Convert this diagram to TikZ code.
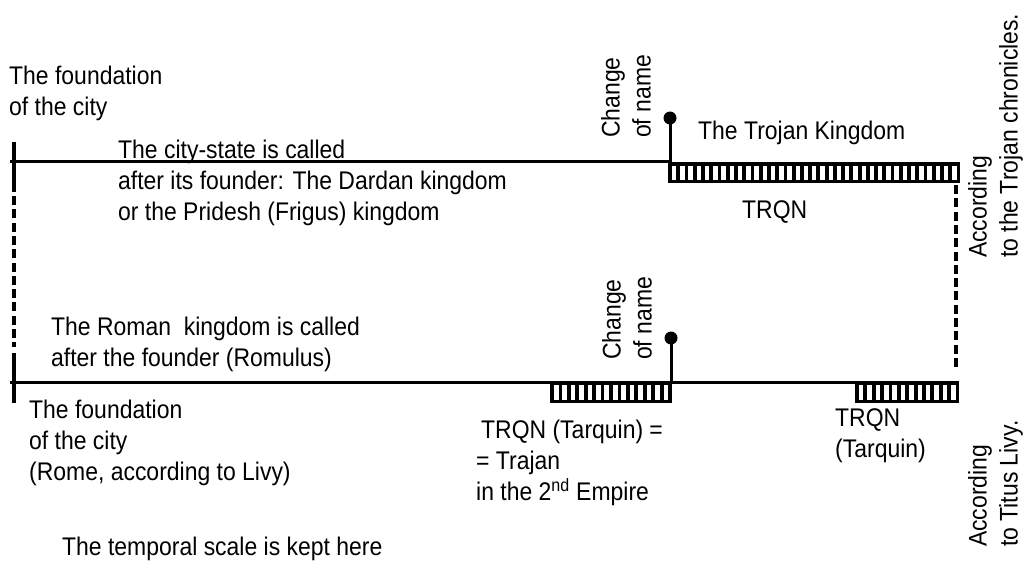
\documentclass[tikz,border=0pt]{standalone}
\usepackage{fontspec}
\setmainfont{Liberation Sans}[FakeStretch=0.9]
\begin{document}
\begin{tikzpicture}[x=1pt,y=-1pt,
  txt/.style={inner sep=0pt, align=left, font=\fontsize{25.5}{31}\selectfont},
  tl/.style={line width=3pt},
  dsh/.style={line width=3.2pt, dash pattern=on 9pt off 4.3pt},
  barframe/.style={line width=3.3pt},
  hatchbar/.style={line width=3.8pt}]
\useasboundingbox (0,0) rectangle (1024,561);

% key points
\coordinate (uL) at (10,162);
\coordinate (uC) at (670,162);
\coordinate (uDot) at (670,118);
\coordinate (lL) at (10,382);
\coordinate (lR) at (957,382);
\coordinate (lC) at (671,382);
\coordinate (lDot) at (671,338);
\coordinate (vTop) at (14,142);
\coordinate (vA) at (14,192);
\coordinate (vB) at (14,196);
\coordinate (vC) at (14,347);
\coordinate (vD) at (14,353);
\coordinate (vBot) at (14,403);
\coordinate (rA) at (956,185);
\coordinate (rB) at (956,370);

% upper time line
\draw[tl] (uL) -- (uC);
\draw[tl] (uC) -- (uDot);
\fill (uDot) circle (6.5);
\draw[barframe] (670,164) rectangle (958.5,181.7);
\foreach \k in {1,...,34} \draw[hatchbar] (670+\k*8.243,164) -- (670+\k*8.243,181.7);

% lower time line
\draw[tl] (lL) -- (lR);
\draw[tl] (lC) -- (lDot);
\fill (lDot) circle (6.5);
\draw[barframe] (552,383) rectangle (670,401.7);
\foreach \k in {1,...,13} \draw[hatchbar] (552+\k*8.43,383) -- (552+\k*8.43,401.7);
\draw[barframe] (857,383) rectangle (957.5,401.7);
\foreach \k in {1,...,11} \draw[hatchbar] (857+\k*8.375,383) -- (857+\k*8.375,401.7);

% left vertical marker
\draw[line width=3.3pt] (vTop) -- (vA);
\draw[dsh] (vB) -- (vC);
\draw[line width=3.3pt] (vD) -- (vBot);

% right dashed connector
\draw[dsh] (rA) -- (rB);

% texts
\node[txt, anchor=north west] (found1) at (9,66) {The foundation\\of the city};
\node[txt, anchor=north west] (city) at (118,140) {The city-state is called\\after its founder: The Dardan kingdom\\or the Pridesh (Frigus) kingdom};
\node[txt, anchor=north west] (trojan) at (698,121) {The Trojan Kingdom};
\node[txt, anchor=north west] (trqn1) at (742,200) {TRQN};
\node[txt, rotate=90, anchor=north west] (chg1) at (601,138) {Change\\of name};
\node[txt, rotate=90, anchor=north west] (chg2) at (602,360) {Change\\of name};
\node[txt, rotate=90, anchor=north west] (acc1) at (968,258) {According\\to the Trojan chronicles.};
\node[txt, rotate=90, anchor=north west] (acc2) at (968,547) {According\\to Titus Livy.};
\node[txt, anchor=north west] (roman) at (51,317) {The Roman~ kingdom is called\\after the founder (Romulus)};
\node[txt, anchor=north west] (found2) at (29,400) {The foundation\\of the city\\(Rome, according to Livy)};
\node[txt, anchor=north west] (trqn2) at (476,420) {\hspace*{5pt}TRQN (Tarquin) =\\= Trajan\\in the 2\textsuperscript{nd} Empire};
\node[txt, anchor=north west] (trqn3) at (835,408) {TRQN\\(Tarquin)};
\node[txt, anchor=north west] (scale) at (62,537) {The temporal scale is kept here};
\end{tikzpicture}
\end{document}
